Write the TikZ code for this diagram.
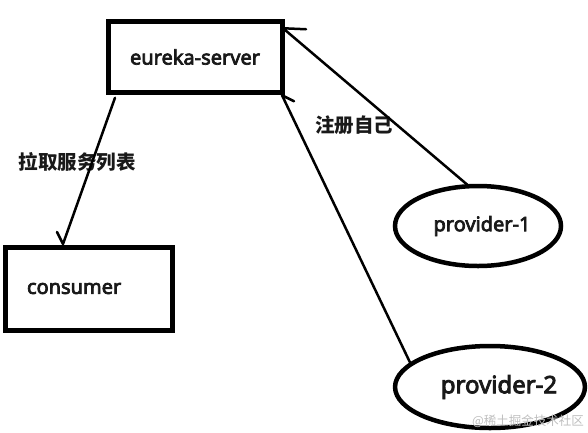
\documentclass[tikz,border=0pt]{standalone}
\usepackage{fontspec}
\setmainfont{Noto Sans}[AutoFakeBold=3.6]
\newfontfamily\cjk{Noto Sans CJK SC}
\usetikzlibrary{calc,shapes.geometric}
\begin{document}
\begin{tikzpicture}[x=1pt,y=-1pt,
  box/.style={draw, line width=5pt, rectangle, inner sep=0pt, outer sep=0pt,
    text=black!90, font=\bfseries\fontsize{20}{24}\selectfont},
  oval/.style={draw, ellipse, line width=4.5pt, inner sep=0pt, outer sep=0pt,
    text=black!90, font=\bfseries\fontsize{20}{24}\selectfont},
  conn/.style={line width=2.5pt, line join=round, line cap=round},
  lbl/.style={font=\cjk\bfseries\fontsize{19.5}{22}\selectfont, inner sep=0pt, text=black!90},
  wmark/.style={font=\cjk\fontsize{12.5}{14}\selectfont, text=black!25, inner sep=0pt},
]
\useasboundingbox (0,0) rectangle (588,432);
\fill[white] (0,0) rectangle (588,432);
\node[box, minimum width=174pt, minimum height=70.5pt] (eureka) at (195,57) {eureka-server};
\node[box, minimum height=83pt, text width=123pt, inner xsep=22pt, align=left] (consumer) at (88.5,288.5) {consumer};
\node[oval, minimum width=166pt, minimum height=80pt] (p1) at (478,226) {\hspace*{8pt}provider-1};
\node[oval, minimum width=178pt, minimum height=82pt, font=\bfseries\fontsize{24}{28}\selectfont] (p2) at (490,387) {\hspace*{18pt}provider-2};
\node[lbl] (pull) at (77,162) {拉取服务列表};
\node[lbl] (reg) at (354,125) {注册自己};
\node[wmark] (wm) at (528,421) {@稀土掘金技术社区};
\draw[conn] ($(p1.north)+(-8,1)$) -- ($(eureka.north east)+(1,6.5)$) -- ++(23,1);
\draw[conn] (p2.164) -- ($(eureka.south east)+(0,3)$) -- ++(12,6);
\draw[conn] ($(eureka.south west)+(7,5.5)$) -- ($(consumer.north west)+(58,-3)$) -- ++(-6,-12);
\end{tikzpicture}
\end{document}
